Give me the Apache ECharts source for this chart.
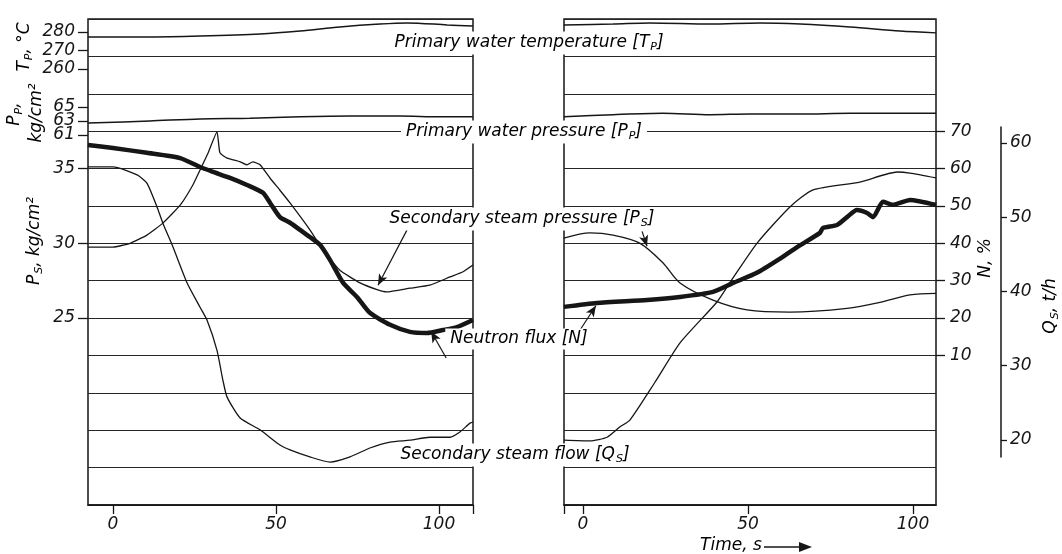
<!DOCTYPE html>
<html>
<head>
<meta charset="utf-8">
<title>Reactor transient record</title>
<script src="https://cdn.jsdelivr.net/npm/echarts@6/dist/echarts.min.js"></script>
<style>
  html, body { margin: 0; padding: 0; background: #fff; }
  #chart { width: 1062px; height: 554px; }
</style>
</head>
<body>
<div id="chart"></div>
<script>
// tick values shown on the axes
var timeTicks = [0, 50, 100];
var tempTicks = [260, 270, 280];
var ppTicksOuter = [61, 65];
var ppTicksMid = [63];
var psTicks = [25, 30, 35];
var fluxTicks = [10, 20, 30, 40, 50, 60, 70];
var flowTicks = [20, 30, 40, 50, 60];

// [time s, value], left and right part of the record
var tempLeft = [[-7.7, 277.3], [11.3, 277.3], [26.7, 277.8], [45.1, 278.9], [57.4, 280.5], [69.6, 282.7], [81.9, 284.3], [90.2, 284.9], [102.5, 283.8], [110.4, 283.2]];
var tempRight = [[-5.8, 283.8], [9.1, 284.3], [20.3, 284.9], [38.5, 284.3], [53.6, 284.9], [65.8, 284.3], [80.9, 282.7], [96.1, 280.5], [107, 279.5]];

var ppLeft = [[-7.7, 62.7], [11.3, 63.0], [26.7, 63.3], [42.0, 63.4], [57.4, 63.6], [72.7, 63.7], [88.0, 63.7], [100.3, 63.6], [110.4, 63.6]];
var ppRight = [[-5.8, 63.6], [9.1, 63.9], [24.2, 64.1], [38.5, 63.9], [50.6, 64.0], [65.8, 64.0], [80.9, 64.1], [107, 64.1]];

var psLeft = [[-7.7, 29.75], [0, 29.75], [5.2, 30.0], [10.4, 30.55], [15.3, 31.35], [20.6, 32.55], [24.5, 33.9], [26.7, 34.9], [29.1, 36.0], [31.9, 37.45], [32.8, 36.05], [35.0, 35.7], [39.0, 35.45], [41.1, 35.25], [42.9, 35.45], [45.1, 35.25], [48.2, 34.35], [51.2, 33.55], [54.3, 32.7], [60.4, 30.9], [64.4, 29.55], [69.6, 28.2], [75.8, 27.35], [81.0, 26.9], [84.0, 26.75], [91.1, 27.0], [97.2, 27.2], [103.4, 27.75], [107.4, 28.1], [110.4, 28.55]];
var psRight = [[-5.8, 30.35], [2.1, 30.7], [9.1, 30.55], [17.3, 30.0], [24.2, 28.7], [29.4, 27.35], [39.4, 26.2], [49.7, 25.55], [62.7, 25.4], [80.0, 25.65], [90.0, 26.05], [99.1, 26.55], [107, 26.65]];

var fluxLeft = [[-7.7, 66.3], [0, 65.5], [10.4, 64.2], [20.6, 62.8], [26.7, 60.4], [30.7, 59.1], [35.9, 57.5], [41.1, 55.6], [46.0, 53.5], [48.2, 50.8], [51.2, 47.0], [54.3, 45.5], [58.3, 43.0], [60.4, 41.7], [63.5, 39.6], [66.6, 35.5], [70.6, 29.4], [74.9, 25.6], [78.8, 21.4], [85.0, 18.2], [91.1, 16.3], [96.3, 16.0], [101.2, 16.8], [105.5, 17.6], [110.4, 19.5]];
var fluxRight = [[-5.8, 23.0], [4.2, 24.05], [19.4, 24.85], [29.4, 25.65], [39.4, 27.0], [45.5, 29.4], [52.7, 32.1], [59.7, 35.9], [64.9, 39.0], [71.8, 42.8], [72.7, 44.1], [77.0, 44.9], [80.0, 47.0], [83.0, 48.9], [86.1, 48.1], [87.9, 47.0], [90.9, 51.1], [93.9, 50.3], [99.1, 51.6], [107, 50.25]];

var flowLeft = [[-7.7, 56.8], [0, 56.8], [7.4, 55.7], [10.4, 54.6], [13.5, 51.4], [15.3, 49.2], [18.4, 46.0], [22.7, 41.2], [26.7, 37.9], [28.8, 36.2], [31.9, 32.1], [33.7, 28.1], [35.0, 25.8], [39.0, 23.0], [45.1, 21.4], [51.2, 19.35], [54.3, 18.7], [60.4, 17.75], [66.6, 17.05], [72.7, 17.75], [78.8, 18.95], [85.0, 19.75], [91.1, 20.0], [97.2, 20.4], [103.4, 20.4], [106.4, 21.1], [109.5, 22.3], [110.4, 22.45]];
var flowRight = [[-5.8, 20.0], [2.1, 19.9], [7.3, 20.4], [11.2, 21.8], [14.2, 22.7], [21.8, 27.8], [29.4, 33.1], [40.6, 38.6], [44.5, 41.2], [52.7, 46.5], [62.7, 51.4], [69.7, 53.7], [83.9, 54.75], [95.2, 56.1], [99.1, 55.95], [107, 55.3]];

var INK = '#161616';
var FONT = 'DejaVu Sans';

var chart = echarts.init(document.getElementById('chart'));

function tickStyle(vals, len) {
    return { show: true, customValues: vals, length: len, lineStyle: { color: INK, width: 1.3 } };
}
function labelStyle(vals, margin) {
    return {
        show: true, customValues: vals, margin: margin, hideOverlap: false,
        color: INK, fontFamily: FONT, fontStyle: 'italic', fontSize: 17
    };
}
function gridLines(grid) {
    return {
        type: 'value', gridIndex: grid, min: 0, max: 13, interval: 1,
        axisLine: { show: false }, axisTick: { show: false }, axisLabel: { show: false },
        splitLine: { show: true, lineStyle: { color: '#262626', width: 1.2 } }
    };
}
function hiddenY(grid, min, max) {
    return { type: 'value', gridIndex: grid, min: min, max: max, show: false };
}
function shownY(grid, pos, min, max, vals, tickLen, margin, line) {
    return {
        type: 'value', gridIndex: grid, position: pos, min: min, max: max,
        axisLine: { show: !!line, lineStyle: { color: INK, width: 1.5 } },
        axisTick: tickStyle(vals, tickLen),
        axisLabel: labelStyle(vals, margin),
        splitLine: { show: false }
    };
}
function trace(data, xi, yi, width, smooth) {
    return {
        type: 'line', data: data, xAxisIndex: xi, yAxisIndex: yi,
        showSymbol: false, symbol: 'none', smooth: smooth, z: 5,
        lineStyle: { color: INK, width: width }
    };
}
function arrow(from, to) {
    return {
        silent: true, symbol: ['none', 'arrow'], symbolSize: [7, 11],
        lineStyle: { color: INK, width: 1.2, type: 'solid' },
        label: { show: false },
        data: [[{ coord: from }, { coord: to }]]
    };
}

var RICH = {
    t: { fontFamily: FONT, fontStyle: 'italic', fontSize: 17, color: INK },
    s: { fontFamily: FONT, fontStyle: 'italic', fontSize: 11, color: INK, padding: [8, 0, 0, 1] }
};
function txt(x, y, text, rot, bg) {
    return {
        type: 'text', x: x, y: y, rotation: rot || 0, z: 100,
        style: {
            text: text, rich: RICH, align: 'center', verticalAlign: 'middle',
            backgroundColor: bg ? '#fff' : 'transparent', padding: bg ? [2, 5] : 0
        }
    };
}

var ps0 = trace(psLeft, 0, 3, 1.3, 0.15);
ps0.markLine = arrow([90.2, 30.9], [81.3, 27.2]);
var ps1 = trace(psRight, 1, 9, 1.3, 0.3);
ps1.markLine = arrow([17.9, 30.8], [19.4, 29.8]);
var n0 = trace(fluxLeft, 0, 4, 4.5, 0.2);
n0.markLine = arrow([102.2, 9.3], [97.6, 16.4]);
var n1 = trace(fluxRight, 1, 10, 4.5, 0.2);
n1.markLine = arrow([-0.9, 16.8], [3.9, 23.3]);

chart.setOption({
    animation: false,
    backgroundColor: '#fff',
    grid: [
        { left: 88, top: 19, width: 385, height: 486, show: true, borderColor: INK, borderWidth: 1.5, backgroundColor: 'transparent', outerBoundsMode: 'none' },
        { left: 564, top: 19, width: 372, height: 486, show: true, borderColor: INK, borderWidth: 1.5, backgroundColor: 'transparent', outerBoundsMode: 'none' },
        { left: 1001, top: 127, width: 1, height: 330, show: false, outerBoundsMode: 'none' }
    ],
    xAxis: [
        {
            type: 'value', gridIndex: 0, min: -7.67, max: 110.43,
            axisLine: { show: true, lineStyle: { color: INK, width: 1.5 } },
            axisTick: tickStyle(timeTicks.concat([110.43]), 9),
            axisLabel: labelStyle(timeTicks, 11),
            splitLine: { show: false }
        },
        {
            type: 'value', gridIndex: 1, min: -5.76, max: 106.97,
            axisLine: { show: true, lineStyle: { color: INK, width: 1.5 } },
            axisTick: tickStyle([-5.76].concat(timeTicks), 9),
            axisLabel: labelStyle(timeTicks, 11),
            splitLine: { show: false }
        },
        { type: 'value', gridIndex: 2, min: 0, max: 1, show: false }
    ],
    yAxis: [
        gridLines(0),                                             // 0
        shownY(0, 'left', 24.3, 287.0, tempTicks, 10, 13),        // 1 T_P
        shownY(0, 'left', 8.14, 77.57, ppTicksOuter, 10, 13),     // 2 P_P (61, 65)
        shownY(0, 'left', 12.5, 45, psTicks, 10, 13),             // 3 P_S
        hiddenY(0, -30, 100),                                     // 4 N
        hiddenY(0, 11.28, 76.69),                                 // 5 Q_S
        gridLines(1),                                             // 6
        hiddenY(1, 24.3, 287.0),                                  // 7
        hiddenY(1, 8.14, 77.57),                                  // 8
        hiddenY(1, 12.5, 45),                                     // 9
        shownY(1, 'right', -30, 100, fluxTicks, 9, 14),           // 10 N
        hiddenY(1, 11.28, 76.69),                                 // 11
        shownY(2, 'right', 17.71, 62.15, flowTicks, 6, 8, true),  // 12 Q_S scale
        shownY(0, 'left', 8.14, 77.57, ppTicksMid, 10, 13)        // 13 P_P (63)
    ],
    series: [
        trace(tempLeft, 0, 1, 1.5, 0.3),
        trace(ppLeft, 0, 2, 1.5, 0.3),
        ps0,
        n0,
        trace(flowLeft, 0, 5, 1.3, 0.2),
        trace(tempRight, 1, 7, 1.5, 0.3),
        trace(ppRight, 1, 8, 1.5, 0.3),
        ps1,
        n1,
        trace(flowRight, 1, 11, 1.3, 0.2)
    ],
    graphic: [
        txt(529, 43, '{t|Primary water temperature [T}{s|P}{t|]}', 0, true),
        txt(524, 132, '{t|Primary water pressure [P}{s|P}{t|]}', 0, true),
        txt(522, 219, '{t|Secondary steam pressure [P}{s|S}{t|]}', 0, true),
        txt(519, 339, '{t|Neutron flux [N]}', 0, true),
        txt(515, 455, '{t|Secondary steam flow [Q}{s|S}{t|]}', 0, true),
        txt(25, 47, '{t|T}{s|P}{t|, °C}', Math.PI / 2),
        txt(15, 114, '{t|P}{s|P}{t|,}', Math.PI / 2),
        txt(37, 113, '{t|kg/cm²}', Math.PI / 2),
        txt(35, 241, '{t|P}{s|S}{t|, kg/cm²}', Math.PI / 2),
        txt(986, 258, '{t|N, %}', Math.PI / 2),
        txt(1051, 306, '{t|Q}{s|S}{t|, t/h}', Math.PI / 2),
        txt(731, 546, '{t|Time, s}'),
        { type: 'line', z: 100, shape: { x1: 764, y1: 547, x2: 803, y2: 547 }, style: { stroke: INK, lineWidth: 1.6 } },
        { type: 'polygon', z: 100, shape: { points: [[812, 547], [799, 542], [799, 552]] }, style: { fill: INK } }
    ]
});
</script>
</body>
</html>
